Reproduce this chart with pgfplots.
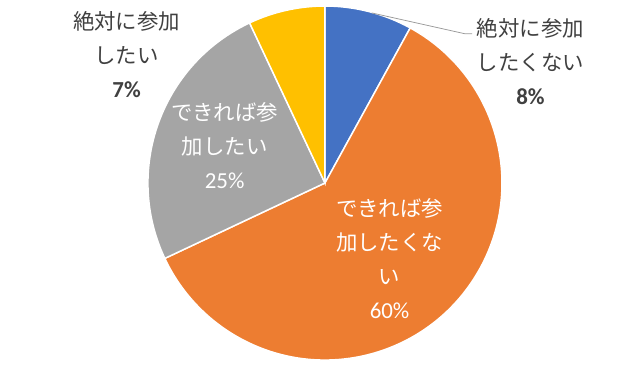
\documentclass[border=0pt]{standalone}
\usepackage{pgfplots}
\usepackage{pgfplotstable}
\pgfplotsset{compat=1.18}
\usepackage{fontspec}
\setmainfont{Carlito}
\newfontfamily\cjk{Noto Sans CJK JP}
\newfontfamily\lat{Carlito}
\definecolor{c1}{HTML}{4472C4}
\definecolor{c2}{HTML}{ED7D31}
\definecolor{c3}{HTML}{A5A5A5}
\definecolor{c4}{HTML}{FFC000}
\definecolor{txt}{HTML}{404040}
\pgfplotstableread{
name value
A 8
B 60
C 25
D 7
}\piedata
\begin{document}
\begin{tikzpicture}
\pgfplotstablegetelem{0}{value}\of\piedata \pgfmathsetmacro\vA{\pgfplotsretval}
\pgfplotstablegetelem{1}{value}\of\piedata \pgfmathsetmacro\vB{\pgfplotsretval}
\pgfplotstablegetelem{2}{value}\of\piedata \pgfmathsetmacro\vC{\pgfplotsretval}
\pgfplotstablegetelem{3}{value}\of\piedata \pgfmathsetmacro\vD{\pgfplotsretval}
\pgfmathsetmacro\tot{\vA+\vB+\vC+\vD}
\pgfmathsetmacro\aZ{90}
\pgfmathsetmacro\aA{\aZ-(\vA/\tot)*360}
\pgfmathsetmacro\aB{\aA-(\vB/\tot)*360}
\pgfmathsetmacro\aC{\aB-(\vC/\tot)*360}
\pgfmathsetmacro\aD{\aC-(\vD/\tot)*360}
\begin{axis}[
  hide axis, scale only axis,
  width=640bp, height=385bp,
  xmin=-1.836, xmax=1.780, ymin=-1.141, ymax=1.034,
  clip=false,
]
\path (axis cs:-1.836,-1.141) rectangle (axis cs:1.780,1.034);
\filldraw[fill=c1, draw=white, line width=1.5pt] (axis cs:0,0) -- (axis cs:{cos(\aZ)},{sin(\aZ)}) arc[start angle=\aZ, end angle=\aA, radius=1] -- cycle;
\filldraw[fill=c2, draw=white, line width=1.5pt] (axis cs:0,0) -- (axis cs:{cos(\aA)},{sin(\aA)}) arc[start angle=\aA, end angle=\aB, radius=1] -- cycle;
\filldraw[fill=c3, draw=white, line width=1.5pt] (axis cs:0,0) -- (axis cs:{cos(\aB)},{sin(\aB)}) arc[start angle=\aB, end angle=\aC, radius=1] -- cycle;
\filldraw[fill=c4, draw=white, line width=1.5pt] (axis cs:0,0) -- (axis cs:{cos(\aC)},{sin(\aC)}) arc[start angle=\aC, end angle=\aD, radius=1] -- cycle;
% leader line
\draw[gray!80, line width=0.75pt] (axis cs:0.264,0.961) -- (axis cs:0.792,0.843) -- (axis cs:0.831,0.843);
% labels
\node[align=center, text=txt, font=\fontsize{21.5}{34}\selectfont] at (axis cs:1.161,0.680)
  {\cjk 絶対に参加\\\cjk したくない\\\lat\fontsize{23}{34}\selectfont\bfseries \vphantom{\cjk 参}8\%};
\node[align=center, text=txt, font=\fontsize{21.5}{34}\selectfont] at (axis cs:-1.121,0.719)
  {\cjk 絶対に参加\\\cjk したい\\\lat\fontsize{23}{34}\selectfont\bfseries \vphantom{\cjk 参}7\%};
\node[align=center, text=white, font=\fontsize{21.5}{34}\selectfont] at (axis cs:-0.567,0.205)
  {\cjk できれば参\\\cjk 加したい\\\lat\fontsize{23}{34}\selectfont \vphantom{\cjk 参}25\%};
\node[align=center, text=white, font=\fontsize{21.5}{34}\selectfont] at (axis cs:0.365,-0.433)
  {\cjk できれば参\\\cjk 加したくな\\\cjk い\\\lat\fontsize{23}{34}\selectfont \vphantom{\cjk 参}60\%};
\end{axis}
\end{tikzpicture}
\end{document}
